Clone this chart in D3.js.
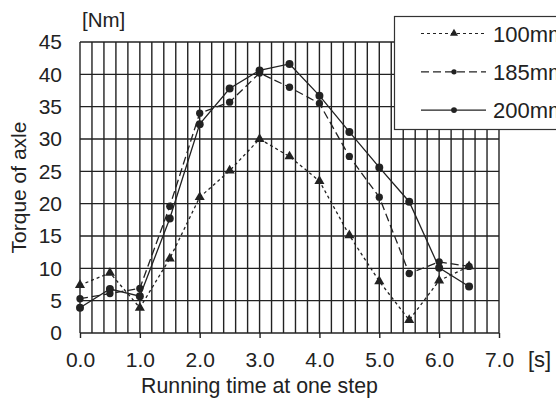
<!DOCTYPE html>
<html>
<head>
<meta charset="utf-8">
<script src="https://cdn.jsdelivr.net/npm/d3@7"></script>
<style>
  body { margin: 0; background: #fff; }
  text { font-family: "Liberation Sans", Arial, sans-serif; fill: #222; }
</style>
</head>
<body>
<svg id="chart" width="556" height="401"></svg>
<script>
const times = [0, 0.5, 1.0, 1.5, 2.0, 2.5, 3.0, 3.5, 4.0, 4.5, 5.0, 5.5, 6.0, 6.5];
const torque100 = [7.4, 9.3, 3.9, 11.5, 21.0, 25.1, 30.0, 27.3, 23.5, 15.1, 8.0, 2.0, 8.1, 10.3];
const torque185 = [5.3, 6.1, 6.9, 19.6, 34.0, 35.7, 40.2, 38.0, 35.5, 27.3, 21.0, 9.2, 11.0, 10.3];
const torque200 = [3.9, 6.8, 5.7, 17.7, 32.3, 37.8, 40.6, 41.6, 36.7, 31.1, 25.6, 20.3, 10.1, 7.2];
const seriesNames = ["100mm", "185mm", "200mm"];
const xTicks = [0, 1, 2, 3, 4, 5, 6, 7];
const yTicks = [0, 5, 10, 15, 20, 25, 30, 35, 40, 45];

const width = 556;
const height = 401;
const margin = { top: 42, right: 57, bottom: 68, left: 80 };
const ink = "#222";

const svg = d3.select("#chart");

const x = d3.scaleLinear().domain([0, 7]).range([margin.left, width - margin.right]);
const y = d3.scaleLinear().domain([0, 45]).range([height - margin.bottom, margin.top]);

// grid: vertical every 0.2 s, horizontal every 5 Nm
const grid = svg.append("g").attr("stroke", ink).attr("stroke-width", 1.4);
grid.selectAll(".vg")
  .data(d3.range(0, 36).map((i) => i * 0.2))
  .join("line")
  .attr("x1", (d) => x(d)).attr("x2", (d) => x(d))
  .attr("y1", y(0)).attr("y2", y(45));
grid.selectAll(".hg")
  .data(yTicks)
  .join("line")
  .attr("x1", x(0)).attr("x2", x(7))
  .attr("y1", (d) => y(d)).attr("y2", (d) => y(d));

// x axis with integer ticks below
svg.append("g")
  .attr("transform", `translate(0,${y(0)})`)
  .call(d3.axisBottom(x).tickValues(xTicks).tickSize(5).tickPadding(14).tickFormat(d3.format(".1f")))
  .call((g) => g.select(".domain").remove())
  .call((g) => g.selectAll("line").attr("stroke", ink).attr("stroke-width", 1.4))
  .call((g) => g.selectAll("text").attr("font-size", 21).attr("fill", "#222").attr("font-family", "Liberation Sans, Arial, sans-serif"));

// y axis labels
svg.append("g")
  .attr("transform", `translate(${x(0)},0)`)
  .call(d3.axisLeft(y).tickValues(yTicks).tickSize(0).tickPadding(18))
  .call((g) => g.select(".domain").remove())
  .call((g) => g.selectAll("text").attr("font-size", 21).attr("fill", "#222").attr("font-family", "Liberation Sans, Arial, sans-serif"));

// axis titles and units
svg.append("text").attr("x", 82).attr("y", 27).attr("font-size", 20.5).text("[Nm]");
svg.append("text").attr("x", 528).attr("y", 367).attr("font-size", 22).text("[s]");
svg.append("text")
  .attr("x", 259.5).attr("y", 393)
  .attr("text-anchor", "middle").attr("font-size", 21.3)
  .text("Running time at one step");
svg.append("text")
  .attr("transform", `translate(26,${(y(0) + y(45)) / 2}) rotate(-90)`)
  .attr("text-anchor", "middle").attr("font-size", 21)
  .text("Torque of axle");

const series = [
  { name: seriesNames[0], values: torque100, dash: "3,3", marker: "triangle" },
  { name: seriesNames[1], values: torque185, dash: "8,4", marker: "diamond" },
  { name: seriesNames[2], values: torque200, dash: null, marker: "circle" },
];

const symbolOf = (m, big) => {
  if (m === "triangle") return d3.symbol().type(d3.symbolTriangle).size(big ? 44 : 28)();
  if (m === "diamond") return d3.symbol().type(d3.symbolCircle).size(big ? 42 : 22)();
  return d3.symbol().type(d3.symbolCircle).size(big ? 50 : 26)();
};

const line = d3.line().x((d) => x(d[0])).y((d) => y(d[1]));

series.forEach((s) => {
  const pts = times.map((t, i) => [t, s.values[i]]);
  svg.append("path")
    .datum(pts)
    .attr("fill", "none")
    .attr("stroke", ink)
    .attr("stroke-width", 1.3)
    .attr("stroke-dasharray", s.dash)
    .attr("d", line);
  svg.append("g")
    .selectAll("path")
    .data(pts)
    .join("path")
    .attr("transform", (d) => `translate(${x(d[0])},${y(d[1])})`)
    .attr("d", symbolOf(s.marker, true))
    .attr("fill", ink);
});

// legend box, running off the right edge as in the original
const legend = svg.append("g");
legend.append("rect")
  .attr("x", 394.5).attr("y", 16.5)
  .attr("width", 200).attr("height", 113)
  .attr("fill", "#fff")
  .attr("stroke", "#333").attr("stroke-width", 1.2);

series.forEach((s, i) => {
  const ly = 33.5 + i * 38.3;
  legend.append("line")
    .attr("x1", 421).attr("x2", 486)
    .attr("y1", ly).attr("y2", ly)
    .attr("stroke", ink).attr("stroke-width", 1.2)
    .attr("stroke-dasharray", s.dash);
  legend.append("path")
    .attr("transform", `translate(454,${ly})`)
    .attr("d", symbolOf(s.marker, false))
    .attr("fill", ink);
  legend.append("text")
    .attr("x", 493).attr("y", ly + 8)
    .attr("font-size", 22).attr("fill", "#444")
    .text(s.name);
});
</script>
</body>
</html>
